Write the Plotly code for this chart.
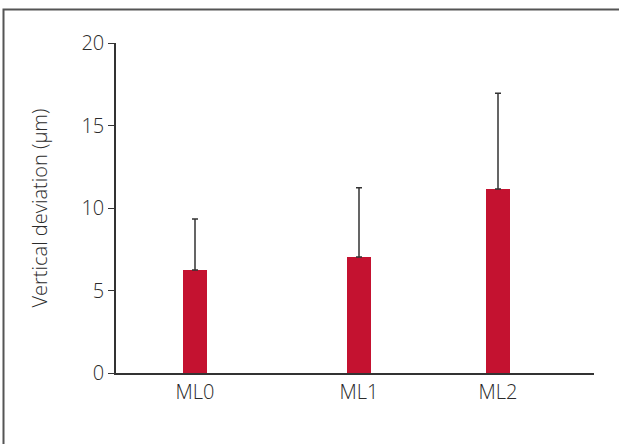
import plotly.graph_objects as go

categories = ["ML0", "ML1", "ML2"]
x_positions = [0.79, 2.43, 3.82]
means = [6.24, 7.03, 11.15]
upper_sd = [3.09, 4.20, 5.80]
y_ticks = [0, 5, 10, 15, 20]

W, H = 619, 444
L, R, T, B = 116, 25, 43, 71
pw = W - L - R
ph = H - T - B

fig = go.Figure()
fig.add_trace(go.Bar(
    x=x_positions, y=means, width=0.24,
    marker=dict(color="#C41230", line=dict(width=0)),
    error_y=dict(type="data", array=upper_sd, symmetric=False,
                 arrayminus=[0] * len(means),
                 color="#333333", thickness=1.5, width=3),
    showlegend=False,
))

font = dict(family="Open Sans", size=20, color="#2b2b2b", weight=300)

fig.update_layout(
    width=W, height=H,
    margin=dict(l=L, r=R, t=T, b=B, pad=0),
    paper_bgcolor="white", plot_bgcolor="white",
    font=font,
    xaxis=dict(range=[0, 4.78], tickmode="array", tickvals=x_positions,
               ticktext=categories, showgrid=False, zeroline=False,
               showline=True, linecolor="#333333", linewidth=1.5,
               ticks="", tickfont=font, fixedrange=True),
    yaxis=dict(range=[0, 20], tickmode="array", tickvals=y_ticks,
               showgrid=False, zeroline=False, showline=True,
               linecolor="#333333", linewidth=1.5, ticks="outside",
               ticklen=6, tickwidth=1.2, tickcolor="#333333",
               tickfont=font, title=dict(text="Vertical deviation (µm)", font=font, standoff=28)),
    shapes=[dict(type="rect", xref="paper", yref="paper",
                 x0=(3.5 - L) / pw, x1=(W + 10 - L) / pw,
                 y0=-(H + 10 - T - ph) / ph, y1=(T + ph - 9.5) / ph,
                 line=dict(color="#555555", width=2), fillcolor="rgba(0,0,0,0)",
                 layer="below")],
)

fig.write_html("out.html", config={"displayModeBar": False},
               post_script="document.body.style.margin='0';document.body.style.overflow='hidden';")
